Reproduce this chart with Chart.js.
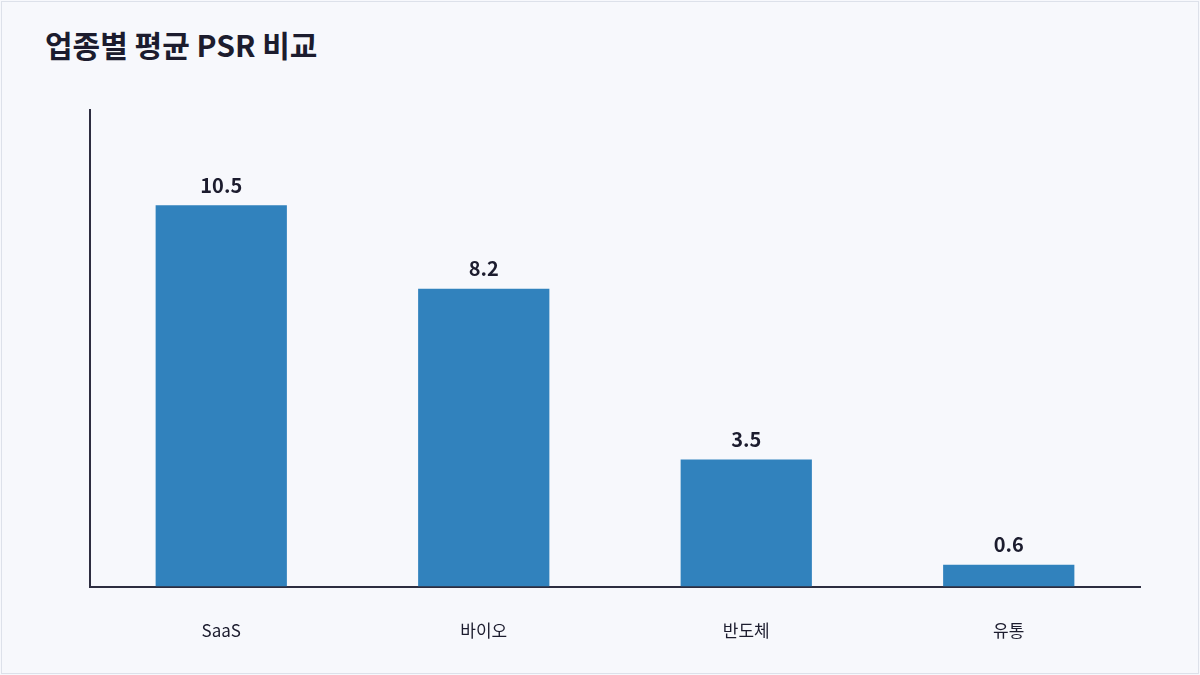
<!DOCTYPE html>
<html>
<head>
<meta charset="utf-8">
<script src="https://cdn.jsdelivr.net/npm/chart.js@4"></script>
<style>
  html, body { margin: 0; padding: 0; }
  body { width: 1200px; height: 675px; background: #f7f8fc; font-family: "Noto Sans CJK KR", "Noto Sans", sans-serif; }
  #frame { position: absolute; left: 1px; top: 1px; width: 1196px; height: 671px; border: 1px solid #dde1ea; }
  #title { position: absolute; left: 45px; top: 22px; font-size: 30px; font-weight: 700; color: #1c1c2e; margin: 0; }
  #wrap { position: absolute; left: 0; top: 0; width: 1200px; height: 675px; }
</style>
</head>
<body>
<div id="frame"></div>
<h1 id="title">업종별 평균 PSR 비교</h1>
<div id="wrap"><canvas id="chart"></canvas></div>
<script>
const categories = ['SaaS', '바이오', '반도체', '유통'];
const psrValues = [10.5, 8.2, 3.5, 0.6];

const valueLabels = {
    id: 'valueLabels',
    afterDatasetsDraw(chart) {
        const ctx = chart.ctx;
        ctx.save();
        ctx.font = 'bold 20px "Noto Sans CJK KR", "Noto Sans", sans-serif';
        ctx.fillStyle = '#1c1c2e';
        ctx.textAlign = 'center';
        ctx.textBaseline = 'bottom';
        chart.getDatasetMeta(0).data.forEach((bar, i) => {
            ctx.fillText(psrValues[i].toFixed(1), bar.x, bar.y - 10);
        });
        ctx.restore();
    }
};

function loadChart() {
    let ctx = document.getElementById('chart');
    new Chart(ctx, {
        type: 'bar',
        data: {
            labels: categories,
            datasets: [{
                data: psrValues,
                backgroundColor: '#3182bd',
                barPercentage: 0.5,
                categoryPercentage: 1
            }]
        },
        options: {
            responsive: true,
            maintainAspectRatio: false,
            animation: false,
            layout: { padding: { left: 90, right: 60, top: 110, bottom: 0 } },
            plugins: { legend: { display: false }, tooltip: { enabled: false } },
            scales: {
                x: {
                    grid: { display: false, drawTicks: false },
                    border: { color: '#2d2d40', width: 2 },
                    ticks: { color: '#1c1c2e', font: { size: 17, family: '"Noto Sans CJK KR", "Noto Sans", sans-serif' }, padding: 34 }
                },
                y: {
                    min: 0,
                    max: 13.125,
                    grid: { display: false, drawTicks: false },
                    border: { color: '#2d2d40', width: 2 },
                    ticks: { display: false }
                }
            }
        },
        plugins: [valueLabels]
    });
}

loadChart();
</script>
</body>
</html>
